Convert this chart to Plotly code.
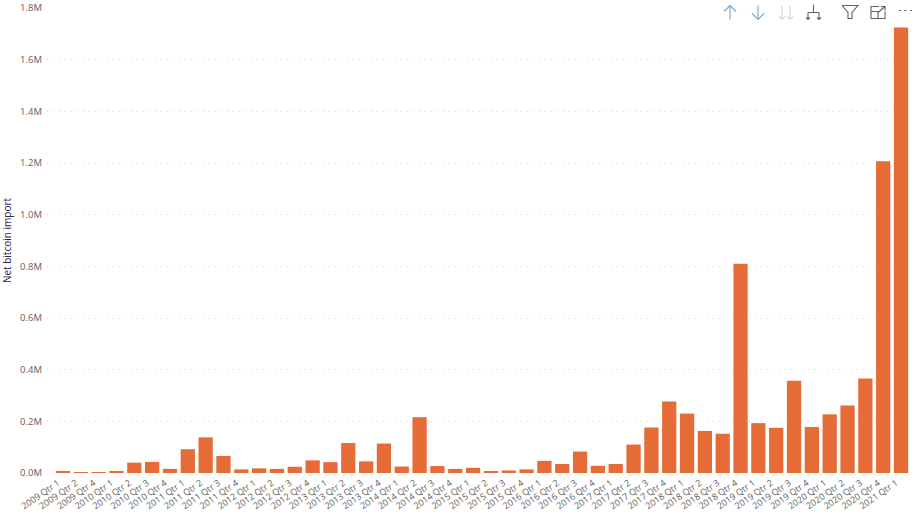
import plotly.graph_objects as go

W, H = 919, 515
categories = [
    "2009 Qtr 1", "2009 Qtr 2", "2009 Qtr 4",
    "2010 Qtr 1", "2010 Qtr 2", "2010 Qtr 3", "2010 Qtr 4",
    "2011 Qtr 1", "2011 Qtr 2", "2011 Qtr 3", "2011 Qtr 4",
    "2012 Qtr 1", "2012 Qtr 2", "2012 Qtr 3", "2012 Qtr 4",
    "2013 Qtr 1", "2013 Qtr 2", "2013 Qtr 3", "2013 Qtr 4",
    "2014 Qtr 1", "2014 Qtr 2", "2014 Qtr 3", "2014 Qtr 4",
    "2015 Qtr 1", "2015 Qtr 2", "2015 Qtr 3", "2015 Qtr 4",
    "2016 Qtr 1", "2016 Qtr 2", "2016 Qtr 3", "2016 Qtr 4",
    "2017 Qtr 1", "2017 Qtr 2", "2017 Qtr 3", "2017 Qtr 4",
    "2018 Qtr 1", "2018 Qtr 2", "2018 Qtr 3", "2018 Qtr 4",
    "2019 Qtr 1", "2019 Qtr 2", "2019 Qtr 3", "2019 Qtr 4",
    "2020 Qtr 1", "2020 Qtr 2", "2020 Qtr 3", "2020 Qtr 4",
    "2021 Qtr 1",
]
net_import = [
    8000, 3000, 3000,
    8000, 40000, 43000, 16000,
    92000, 138000, 66000, 14000,
    18000, 16000, 24000, 49000,
    42000, 116000, 45000, 114000,
    25000, 216000, 27000, 16000,
    20000, 4000, 10000, 14000,
    47000, 35000, 83000, 28000,
    35000, 110000, 176000, 277000,
    230000, 163000, 152000, 810000,
    193000, 175000, 357000, 178000,
    227000, 261000, 366000, 1207000,
    1725000,
]
y_ticks = [0, 200000, 400000, 600000, 800000, 1000000, 1200000, 1400000, 1600000, 1800000]
y_labels = ["0.0M", "0.2M", "0.4M", "0.6M", "0.8M", "1.0M", "1.2M", "1.4M", "1.6M", "1.8M"]

FONT = "Open Sans, Noto Sans, sans-serif"
L, R, T, B = 47, 8, 7.5, 42


def px(x, y):
    """Toolbar pixel position to paper coordinates."""
    return (x - L) / (W - L - R), 1 - (y - T) / (H - T - B)


def path(points):
    out = []
    for stroke in points:
        for i, (x, y) in enumerate(stroke):
            a, b = px(x, y)
            out.append(("M" if i == 0 else "L") + f"{a:.5f},{b:.5f}")
    return " ".join(out)


ICON = "#7fa6c6"
FAINT = "#d3d7dc"
DARK = "#66605f"
icons = [
    ([[(730, 19), (730, 5)], [(724, 11), (730, 5), (736, 11)]], ICON),
    ([[(758, 5), (758, 19)], [(752, 13), (758, 19), (764, 13)]], ICON),
    ([[(782, 5), (782, 19)], [(779, 16), (782, 19), (785, 16)],
      [(790, 5), (790, 19)], [(787, 16), (790, 19), (793, 16)]], FAINT),
    ([[(813.5, 4), (813.5, 12)], [(808, 12), (819, 12)], [(808, 12), (808, 19)],
      [(819, 12), (819, 19)], [(806, 17), (808, 19), (810, 17)],
      [(817, 17), (819, 19), (821, 17)]], DARK),
    ([[(842, 5), (858, 5), (852, 12), (852, 18), (848, 18), (848, 12), (842, 5)]], DARK),
    ([[(879, 6), (871, 6), (871, 18), (885, 18), (885, 11)],
      [(871, 11), (878, 11), (878, 18)], [(878, 12), (885, 6)],
      [(881, 6), (885, 6), (885, 10)]], DARK),
    ([[(899, 10), (901, 10)], [(904.5, 10), (906.5, 10)], [(910, 10), (912, 10)]], DARK),
]
shapes = [
    dict(type="path", xref="paper", yref="paper", path=path(p),
         line=dict(color=c, width=1.1), layer="above")
    for p, c in icons
]

fig = go.Figure(go.Bar(
    x=categories, y=net_import, marker=dict(color="#E66C37", line=dict(width=0)),
))
fig.update_layout(
    width=W, height=H, autosize=False,
    margin=dict(l=L, r=R, t=T, b=B, pad=0),
    paper_bgcolor="white", plot_bgcolor="white",
    bargap=0.2, showlegend=False, shapes=shapes,
    font=dict(family=FONT, color="#605E5C", size=10),
    xaxis=dict(
        type="category", categoryorder="array", categoryarray=categories,
        range=[-0.897, 47.56], tickangle=-35, tickmode="array",
        tickvals=categories, ticktext=categories,
        tickfont=dict(size=9, color="#605E5C", family=FONT),
        ticklabelshift=-5, ticklabelstandoff=2,
        showgrid=False, showline=False, ticks="", zeroline=False, automargin=False,
    ),
    yaxis=dict(
        range=[0, 1800000], tickmode="array", tickvals=y_ticks, ticktext=y_labels,
        tickfont=dict(size=9.5, color="#605E5C", family=FONT),
        ticklabelstandoff=4,
        showgrid=True, gridcolor="#d4d4d4", griddash="1px,5px", gridwidth=1,
        zeroline=False, showline=False, ticks="", ticklen=0, automargin=False,
        title=dict(text="Net bitcoin import", standoff=10,
                   font=dict(size=10, color="#252850", family=FONT)),
    ),
)
fig.write_html(
    "out.html",
    config={"displayModeBar": False},
    post_script="document.body.style.margin='0';document.documentElement.style.overflow='hidden';",
)
